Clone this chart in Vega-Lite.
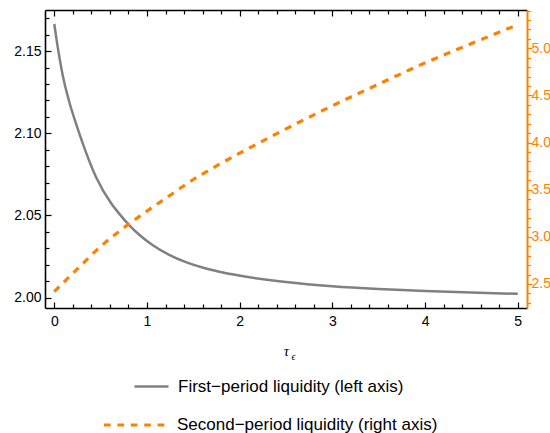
{
  "$schema": "https://vega.github.io/schema/vega-lite/v6.json",
  "width": 482,
  "height": 298,
  "autosize": {"type": "none"},
  "padding": {"left": 45, "top": 10, "right": 23, "bottom": 125},
  "config": {
    "view": {"stroke": null},
    "font": "Liberation Sans",
    "axis": {
      "labelFont": "Liberation Sans",
      "labelFontSize": 14,
      "labelColor": "black",
      "tickColor": "black",
      "tickWidth": 1.2,
      "domainColor": "black",
      "domainWidth": 1.6,
      "grid": false
    }
  },
  "datasets": {
    "first": [
      {"x": 0, "y": 2.1665, "series": "First\u2212period liquidity (left axis)"},
      {"x": 0.04, "y": 2.1515, "series": "First\u2212period liquidity (left axis)"},
      {"x": 0.09, "y": 2.1356, "series": "First\u2212period liquidity (left axis)"},
      {"x": 0.16, "y": 2.1195, "series": "First\u2212period liquidity (left axis)"},
      {"x": 0.24, "y": 2.105, "series": "First\u2212period liquidity (left axis)"},
      {"x": 0.31, "y": 2.0934, "series": "First\u2212period liquidity (left axis)"},
      {"x": 0.45, "y": 2.0734, "series": "First\u2212period liquidity (left axis)"},
      {"x": 0.615, "y": 2.0573, "series": "First\u2212period liquidity (left axis)"},
      {"x": 0.7, "y": 2.0511, "series": "First\u2212period liquidity (left axis)"},
      {"x": 0.81, "y": 2.044, "series": "First\u2212period liquidity (left axis)"},
      {"x": 0.92, "y": 2.0381, "series": "First\u2212period liquidity (left axis)"},
      {"x": 1.06, "y": 2.032, "series": "First\u2212period liquidity (left axis)"},
      {"x": 1.24, "y": 2.026, "series": "First\u2212period liquidity (left axis)"},
      {"x": 1.42, "y": 2.0216, "series": "First\u2212period liquidity (left axis)"},
      {"x": 1.6, "y": 2.0183, "series": "First\u2212period liquidity (left axis)"},
      {"x": 1.78, "y": 2.0158, "series": "First\u2212period liquidity (left axis)"},
      {"x": 1.98, "y": 2.0136, "series": "First\u2212period liquidity (left axis)"},
      {"x": 2.5, "y": 2.0095, "series": "First\u2212period liquidity (left axis)"},
      {"x": 3.0, "y": 2.0069, "series": "First\u2212period liquidity (left axis)"},
      {"x": 3.5, "y": 2.0052, "series": "First\u2212period liquidity (left axis)"},
      {"x": 4.0, "y": 2.004, "series": "First\u2212period liquidity (left axis)"},
      {"x": 4.5, "y": 2.0031, "series": "First\u2212period liquidity (left axis)"},
      {"x": 5.0, "y": 2.0023, "series": "First\u2212period liquidity (left axis)"}
    ],
    "second": [
      {"x": 0, "y": 2.419, "series": "Second\u2212period liquidity (right axis)"},
      {"x": 0.25, "y": 2.66, "series": "Second\u2212period liquidity (right axis)"},
      {"x": 0.5, "y": 2.897, "series": "Second\u2212period liquidity (right axis)"},
      {"x": 0.75, "y": 3.095, "series": "Second\u2212period liquidity (right axis)"},
      {"x": 1.0, "y": 3.273, "series": "Second\u2212period liquidity (right axis)"},
      {"x": 1.25, "y": 3.441, "series": "Second\u2212period liquidity (right axis)"},
      {"x": 1.5, "y": 3.608, "series": "Second\u2212period liquidity (right axis)"},
      {"x": 1.75, "y": 3.752, "series": "Second\u2212period liquidity (right axis)"},
      {"x": 2.0, "y": 3.887, "series": "Second\u2212period liquidity (right axis)"},
      {"x": 2.5, "y": 4.145, "series": "Second\u2212period liquidity (right axis)"},
      {"x": 3.0, "y": 4.39, "series": "Second\u2212period liquidity (right axis)"},
      {"x": 3.5, "y": 4.62, "series": "Second\u2212period liquidity (right axis)"},
      {"x": 4.0, "y": 4.845, "series": "Second\u2212period liquidity (right axis)"},
      {"x": 4.5, "y": 5.05, "series": "Second\u2212period liquidity (right axis)"},
      {"x": 5.0, "y": 5.25, "series": "Second\u2212period liquidity (right axis)"}
    ]
  },
  "layer": [
    {
      "data": {"name": "first"},
      "layer": [
        {
          "mark": {"type": "line", "strokeWidth": 2.5, "interpolate": "monotone"},
          "encoding": {
            "x": {"field": "x", "type": "quantitative",
              "scale": {"domain": [-0.1, 5.1], "nice": false, "zero": false},
              "axis": {"orient": "bottom", "values": [0, 1, 2, 3, 4, 5], "format": "d", "tickSize": -6, "labelPadding": 12.5, "domain": true,
                "title": "\u03c4", "titleFont": "Liberation Serif", "titleFontStyle": "italic", "titleFontWeight": "normal", "titleFontSize": 15, "titleColor": "black", "titleBaseline": "alphabetic", "titleY": 47}},
            "y": {"field": "y", "type": "quantitative",
              "scale": {"domain": [1.9937, 2.175], "nice": false, "zero": false},
              "axis": {"orient": "left", "values": [2.0, 2.05, 2.1, 2.15], "format": ".2f", "tickSize": -6, "labelPadding": 10, "domain": true, "title": null}},
            "color": {"field": "series", "type": "nominal",
              "scale": {"range": ["#808080"]},
              "legend": {"orient": "none", "legendX": 88, "legendY": 358, "title": null, "symbolType": "stroke", "symbolSize": 1156, "symbolStrokeWidth": 2.6, "labelFontSize": 17, "labelFont": "Liberation Sans", "labelColor": "black", "labelOffset": 8, "labelLimit": 400, "padding": 0}}
          }
        },
        {
          "mark": {"type": "line", "opacity": 0},
          "encoding": {
            "x": {"field": "x", "type": "quantitative",
              "axis": {"orient": "bottom", "values": [0.2, 0.4, 0.6, 0.8, 1.2, 1.4, 1.6, 1.8, 2.2, 2.4, 2.6, 2.8, 3.2, 3.4, 3.6, 3.8, 4.2, 4.4, 4.6, 4.8], "labels": false, "tickSize": -4, "domain": false,
                "title": "\u03f5", "titleFont": "Liberation Serif", "titleFontStyle": "italic", "titleFontWeight": "normal", "titleFontSize": 10, "titleColor": "black", "titleBaseline": "alphabetic", "titleX": 248, "titleY": 51}},
            "y": {"field": "y", "type": "quantitative",
              "axis": {"orient": "left", "values": [2.01, 2.02, 2.03, 2.04, 2.06, 2.07, 2.08, 2.09, 2.11, 2.12, 2.13, 2.14, 2.16, 2.17], "labels": false, "tickSize": -4, "domain": false, "title": null}}
          }
        },
        {
          "mark": {"type": "line", "opacity": 0},
          "encoding": {
            "x": {"field": "x", "type": "quantitative",
              "axis": {"orient": "top", "values": [0, 1, 2, 3, 4, 5], "labels": false, "tickSize": -6, "domain": true, "title": null}},
            "y": {"field": "y", "type": "quantitative", "axis": null}
          }
        },
        {
          "mark": {"type": "line", "opacity": 0},
          "encoding": {
            "x": {"field": "x", "type": "quantitative",
              "axis": {"orient": "top", "values": [0.2, 0.4, 0.6, 0.8, 1.2, 1.4, 1.6, 1.8, 2.2, 2.4, 2.6, 2.8, 3.2, 3.4, 3.6, 3.8, 4.2, 4.4, 4.6, 4.8], "labels": false, "tickSize": -4, "domain": false, "title": null}},
            "y": {"field": "y", "type": "quantitative", "axis": null}
          }
        }
      ],
      "resolve": {"axis": {"x": "independent", "y": "independent"}}
    },
    {
      "data": {"name": "second"},
      "layer": [
        {
          "mark": {"type": "line", "strokeWidth": 3.2, "strokeDash": [7, 6.5], "interpolate": "monotone"},
          "encoding": {
            "x": {"field": "x", "type": "quantitative", "axis": null},
            "y": {"field": "y", "type": "quantitative",
              "scale": {"domain": [2.245, 5.406], "nice": false, "zero": false},
              "axis": {"orient": "right", "values": [2.5, 3.0, 3.5, 4.0, 4.5, 5.0], "format": ".1f", "tickSize": 5, "labelPadding": -1, "domain": true, "domainColor": "#FF8000", "domainWidth": 2, "tickColor": "#FF8000", "labelColor": "#FF8000", "title": null}},
            "color": {"field": "series", "type": "nominal",
              "scale": {"range": ["#FF8000"]},
              "legend": {"orient": "none", "legendX": 57, "legendY": 382, "title": null, "symbolType": "stroke", "symbolSize": 3844, "symbolStrokeWidth": 3.2, "symbolDash": [6.7, 6.7], "labelFontSize": 17, "labelFont": "Liberation Sans", "labelColor": "black", "labelOffset": 9, "labelLimit": 400, "padding": 0}}
          }
        },
        {
          "mark": {"type": "line", "opacity": 0},
          "encoding": {
            "x": {"field": "x", "type": "quantitative", "axis": null},
            "y": {"field": "y", "type": "quantitative",
              "axis": {"orient": "right", "values": [2.3, 2.4, 2.6, 2.7, 2.8, 2.9, 3.1, 3.2, 3.3, 3.4, 3.6, 3.7, 3.8, 3.9, 4.1, 4.2, 4.3, 4.4, 4.6, 4.7, 4.8, 4.9, 5.1, 5.2, 5.3, 5.4], "labels": false, "tickSize": 3.5, "domain": false, "tickColor": "#FF8000", "title": null}}
          }
        }
      ],
      "resolve": {"axis": {"y": "independent"}}
    }
  ],
  "resolve": {
    "scale": {"y": "independent", "color": "independent"},
    "axis": {"x": "independent", "y": "independent"},
    "legend": {"color": "independent"}
  }
}
